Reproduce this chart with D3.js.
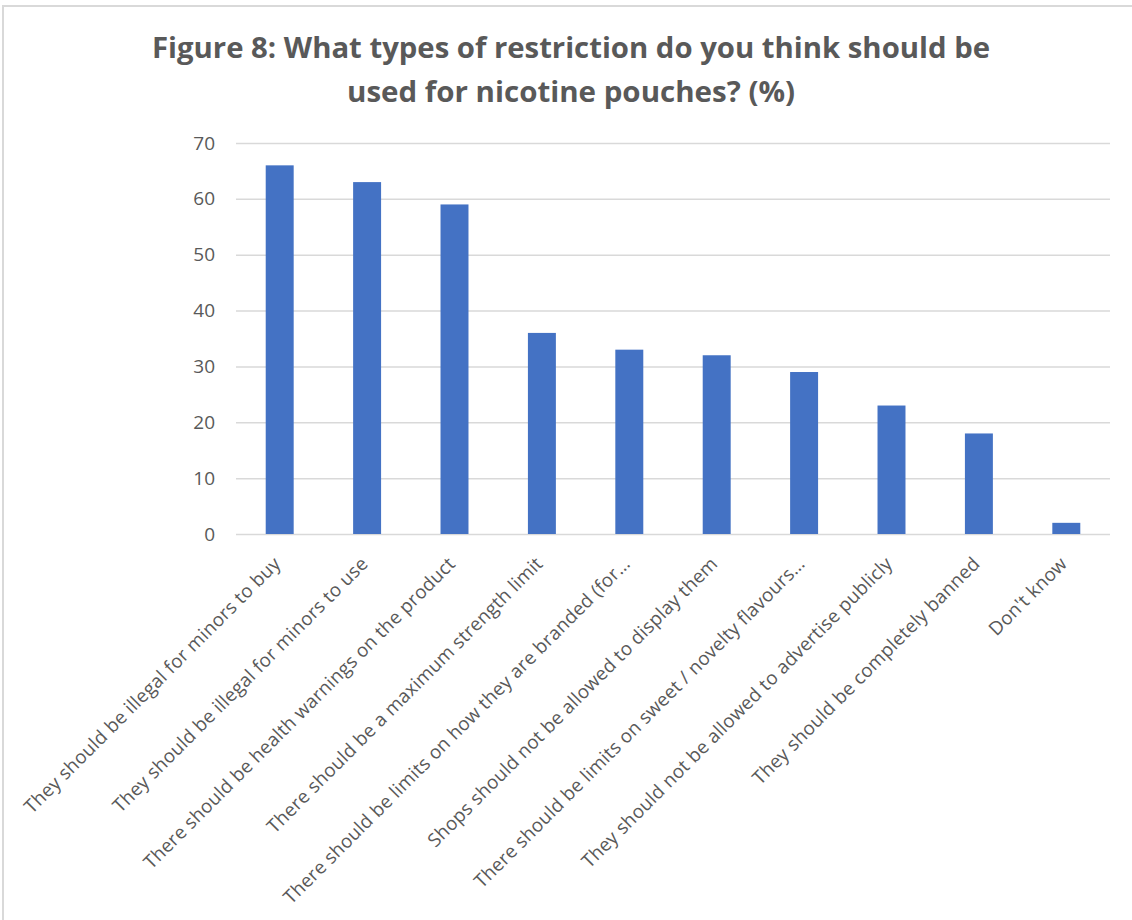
<!DOCTYPE html>
<html>
<head>
<meta charset="utf-8">
<script src="https://cdn.jsdelivr.net/npm/d3@7"></script>
<style>
  html, body { margin: 0; padding: 0; background: #fff; }
  svg { display: block; }
  text { font-family: "Open Sans", "Noto Sans", sans-serif; fill: #595959; }
</style>
</head>
<body>
<svg id="chart" width="1132" height="920"></svg>
<script>
// Survey responses: share of respondents choosing each restriction (%)
const categories = [
  "They should be illegal for minors to buy",
  "They should be illegal for minors to use",
  "There should be health warnings on the product",
  "There should be a maximum strength limit",
  "There should be limits on how they are branded (for…",
  "Shops should not be allowed to display them",
  "There should be limits on sweet / novelty flavours…",
  "They should not be allowed to advertise publicly",
  "They should be completely banned",
  "Don't know"
];
const values = [66, 63, 59, 36, 33, 32, 29, 23, 18, 2];
const yTicks = [0, 10, 20, 30, 40, 50, 60, 70];
const titleLines = [
  "Figure 8: What types of restriction do you think should be",
  "used for nicotine pouches? (%)"
];

const svg = d3.select("#chart");
const W = 1132, H = 920;

// Chart frame
svg.append("rect")
  .attr("x", 3).attr("y", 6)
  .attr("width", W + 10).attr("height", H + 10)
  .attr("fill", "#fff")
  .attr("stroke", "#d9d9d9")
  .attr("stroke-width", 2);

const plot = { left: 236, right: 1110, top: 143, bottom: 534 };

const x = d3.scaleBand()
  .domain(categories)
  .range([plot.left, plot.right])
  .paddingInner(0.68)
  .paddingOuter(0.34);

const y = d3.scaleLinear()
  .domain([0, 70])
  .range([plot.bottom, plot.top]);

// Title
const title = svg.append("g");
const titleWidths = [838, 448];
titleLines.forEach((line, i) => {
  title.append("text")
    .attr("x", 571)
    .attr("y", 58 + i * 44)
    .attr("text-anchor", "middle")
    .attr("font-size", 29)
    .attr("font-weight", 700)
    .attr("textLength", titleWidths[i])
    .attr("lengthAdjust", "spacingAndGlyphs")
    .text(line);
});

// Horizontal gridlines + y labels
const yAxis = d3.axisLeft(y)
  .tickValues(yTicks)
  .tickSize(-(plot.right - plot.left))
  .tickPadding(21);

const gy = svg.append("g")
  .attr("transform", `translate(${plot.left},0)`)
  .call(yAxis);
gy.select(".domain").remove();
gy.selectAll(".tick line")
  .attr("stroke", "#d9d9d9")
  .attr("stroke-width", 1.5);
gy.selectAll(".tick text")
  .attr("font-size", 19)
  .attr("fill", "#595959")
  .style("font-family", "\"Open Sans\", sans-serif");

// Bars
svg.append("g")
  .selectAll("rect")
  .data(values)
  .join("rect")
  .attr("x", (d, i) => x(categories[i]))
  .attr("y", d => y(d))
  .attr("width", x.bandwidth())
  .attr("height", d => y(0) - y(d))
  .attr("fill", "#4472C4");

// Category labels, rotated -45°
const gx = svg.append("g")
  .attr("transform", `translate(0,${plot.bottom})`)
  .call(d3.axisBottom(x).tickSize(0).tickPadding(0));
gx.select(".domain").remove();
gx.selectAll(".tick text")
  .attr("font-size", 18.8)
  .attr("letter-spacing", 0.2)
  .attr("fill", "#595959")
  .style("font-family", "\"Open Sans\", sans-serif")
  .attr("text-anchor", "end")
  .attr("x", 0).attr("y", 0).attr("dy", 0)
  .attr("transform", "translate(2,31) rotate(-45)");
</script>
</body>
</html>
